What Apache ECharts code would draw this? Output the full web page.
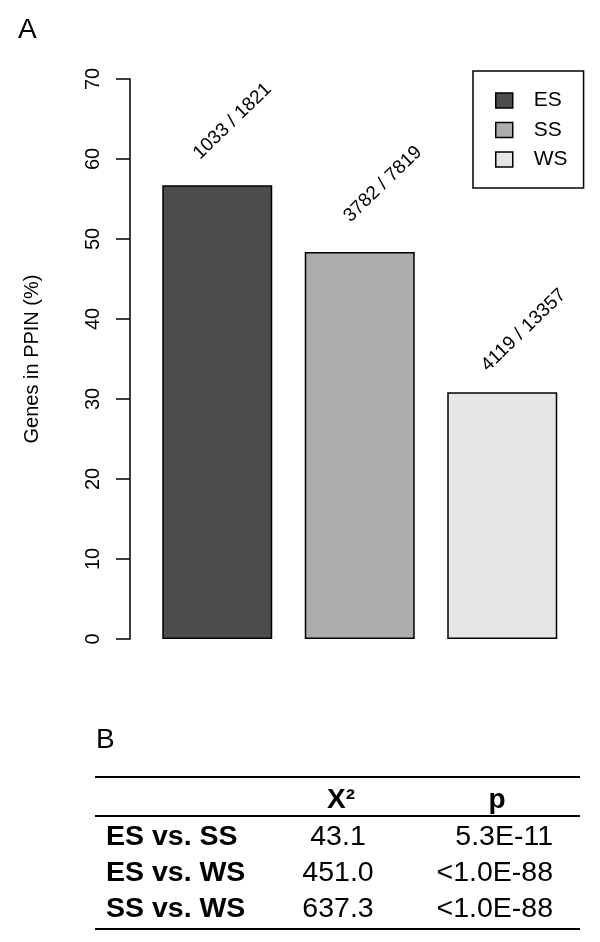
<!DOCTYPE html>
<html>
<head>
<meta charset="utf-8">
<script src="https://cdn.jsdelivr.net/npm/echarts@6/dist/echarts.min.js"></script>
<style>
html,body{margin:0;padding:0;background:#fff;}
#chart{width:600px;height:942px;}
</style>
</head>
<body>
<div id="chart"></div>
<script>
// ---- data ----
const categories = ['ES', 'SS', 'WS'];
const percentInPPIN = [56.73, 48.37, 30.84];
const countLabels = ['1033 / 1821', '3782 / 7819', '4119 / 13357'];
const barColors = ['#4d4d4d', '#adadad', '#e6e6e6'];
const yAxisTitle = 'Genes in PPIN (%)';

const tableHeader = ['', 'X²', 'p'];
const tableRowNames = ['ES vs. SS', 'ES vs. WS', 'SS vs. WS'];
const chiSquare = ['43.1', '451.0', '637.3'];
const pValues = ['5.3E-11', '<1.0E-88', '<1.0E-88'];

// ---- layout ----
const FONT = '"Liberation Sans", Arial, Helvetica, sans-serif';
const labelPos = [[34, -29], [42, -33], [37, -24]];

const chart = echarts.init(document.getElementById('chart'), null, {renderer: 'canvas'});

const series = categories.map((name, i) => ({
  name: name,
  type: 'bar',
  barWidth: 110,
  barGap: '-100%',
  itemStyle: {color: barColors[i], borderColor: '#000', borderWidth: 1.5},
  emphasis: {disabled: true},
  data: categories.map((c, j) => j === i ? {
    value: percentInPPIN[i],
    label: {
      show: true,
      formatter: countLabels[i],
      position: labelPos[i],
      rotate: 44,
      align: 'left',
      verticalAlign: 'middle',
      fontSize: 19,
      fontFamily: FONT,
      color: '#000'
    }
  } : '-')
}));

// table graphics
const graphic = [];
graphic.push({type: 'text', left: 18, top: 16, style: {text: 'A', fontSize: 28, fontFamily: FONT, fill: '#000'}});
graphic.push({type: 'text', left: 96, top: 726, style: {text: 'B', fontSize: 28, fontFamily: FONT, fill: '#000'}});
[777, 816, 929].forEach(y => graphic.push({
  type: 'line', shape: {x1: 95, y1: y, x2: 580, y2: y}, style: {stroke: '#000', lineWidth: 2}
}));
graphic.push({type: 'text', x: 341, y: 800, style: {text: tableHeader[1], fontSize: 28, fontWeight: 'bold', fontFamily: FONT, fill: '#000', align: 'center', verticalAlign: 'middle'}});
graphic.push({type: 'text', x: 497, y: 800, style: {text: tableHeader[2], fontSize: 28, fontWeight: 'bold', fontFamily: FONT, fill: '#000', align: 'center', verticalAlign: 'middle'}});
const rowY = [837, 873, 909];
tableRowNames.forEach((r, i) => {
  graphic.push({type: 'text', x: 106, y: rowY[i], style: {text: r, fontSize: 28.5, fontWeight: 'bold', fontFamily: FONT, fill: '#000', align: 'left', verticalAlign: 'middle'}});
  graphic.push({type: 'text', x: 338, y: rowY[i], style: {text: chiSquare[i], fontSize: 28.5, fontFamily: FONT, fill: '#000', align: 'center', verticalAlign: 'middle'}});
  graphic.push({type: 'text', x: 553, y: rowY[i], style: {text: pValues[i], fontSize: 28.5, fontFamily: FONT, fill: '#000', align: 'right', verticalAlign: 'middle'}});
});

const option = {
  backgroundColor: '#fff',
  animation: false,
  textStyle: {fontFamily: FONT},
  grid: {left: 146, width: 427.5, top: 79, bottom: 303, containLabel: false, outerBoundsMode: 'none'},
  legend: {
    orient: 'vertical',
    left: 473,
    top: 71,
    data: categories,
    icon: 'rect',
    itemWidth: 17,
    itemHeight: 15,
    itemGap: 8.5,
    padding: [19, 16, 18, 22],
    borderColor: '#000',
    borderWidth: 1.5,
    itemStyle: {borderColor: '#000', borderWidth: 1.5},
    textStyle: {fontSize: 21, color: '#000', lineHeight: 20, fontFamily: FONT, padding: [0, 0, 0, 16]},
    selectedMode: false
  },
  xAxis: {
    type: 'category',
    data: categories,
    axisLine: {show: false},
    axisTick: {show: false},
    axisLabel: {show: false},
    splitLine: {show: false}
  },
  yAxis: {
    type: 'value',
    min: 0,
    max: 70,
    interval: 10,
    offset: 16,
    axisLine: {show: true, lineStyle: {color: '#000', width: 1.5}},
    axisTick: {show: true, length: 14, lineStyle: {color: '#000', width: 1.5}},
    axisLabel: {rotate: 90, fontSize: 20, color: '#000', margin: 27, fontFamily: FONT},
    splitLine: {show: false},
    name: yAxisTitle,
    nameLocation: 'middle',
    nameRotate: 90,
    nameGap: 88,
    nameMoveOverlap: false,
    nameTextStyle: {fontSize: 20, color: '#000', fontFamily: FONT}
  },
  series: series,
  graphic: graphic
};
chart.setOption(option);
</script>
</body>
</html>
